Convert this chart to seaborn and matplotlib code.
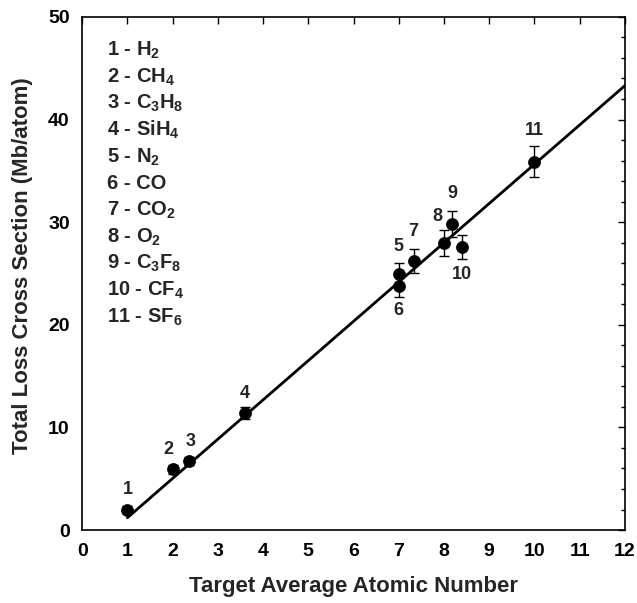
import matplotlib
matplotlib.use("Agg")
import matplotlib.pyplot as plt
import seaborn as sns
import pandas as pd
from matplotlib.ticker import MultipleLocator

# ---- data ----
ids = ["1", "2", "3", "4", "5", "6", "7", "8", "9", "10", "11"]
gases = ["H$_2$", "CH$_4$", "C$_3$H$_8$", "SiH$_4$", "N$_2$", "CO", "CO$_2$",
         "O$_2$", "C$_3$F$_8$", "CF$_4$", "SF$_6$"]
z_avg = [1.0, 2.0, 2.36, 3.6, 7.0, 7.0, 7.33, 8.0, 8.18, 8.4, 10.0]
sigma = [2.0, 5.9, 6.7, 11.4, 24.9, 23.8, 26.2, 28.0, 29.8, 27.6, 35.9]
sigma_err = [0.3, 0.4, 0.4, 0.6, 1.1, 1.1, 1.2, 1.25, 1.25, 1.15, 1.5]
fit_x = [1.0, 12.0]
fit_y = [1.2, 43.3]

df = pd.DataFrame({"z": z_avg, "s": sigma, "e": sigma_err, "id": ids})
fit = pd.DataFrame({"x": fit_x, "y": fit_y})

sns.set_style("white")
plt.rcParams["font.family"] = ["Liberation Sans", "DejaVu Sans"]
plt.rcParams["font.weight"] = "bold"
plt.rcParams["mathtext.fontset"] = "custom"
plt.rcParams["mathtext.rm"] = "Liberation Sans:bold"
plt.rcParams["mathtext.it"] = "Liberation Sans:bold"
plt.rcParams["mathtext.bf"] = "Liberation Sans:bold"

fig = plt.figure(figsize=(6.37, 6.03), dpi=100)
ax = fig.add_axes([0.129, 0.121, 0.852, 0.851])

sns.lineplot(data=fit, x="x", y="y", ax=ax, color="black", linewidth=2.0)
ax.errorbar(df["z"], df["s"], yerr=df["e"], fmt="none", ecolor="black",
            elinewidth=1.0, capsize=3.5, capthick=1.0)
sns.scatterplot(data=df, x="z", y="s", ax=ax, color="black", s=75,
                edgecolor="black", linewidth=0.5, zorder=5)

# point labels (offset in points)
offsets = {"1": (0, 8), "2": (-3, 8), "3": (1, 8), "4": (0, 8), "5": (0, 14),
           "6": (0, -24), "7": (0, 15), "8": (-5, 13), "9": (0, 16),
           "10": (0, -26), "11": (0, 16)}
for zi, si, lab in zip(z_avg, sigma, ids):
    dx, dy = offsets[lab]
    ax.annotate(lab, (zi, si), xytext=(dx, dy), textcoords="offset points",
                ha="center", va="bottom", fontsize=13, fontweight="bold")

# legend list
for i, (lab, g) in enumerate(zip(ids, gases)):
    ax.text(0.045, 0.935 - i * 0.052, f"{lab} - {g}", transform=ax.transAxes,
            fontsize=14.5, fontweight="bold", ha="left", va="center")

ax.set_xlim(0, 12)
ax.set_ylim(0, 50)
ax.xaxis.set_major_locator(MultipleLocator(1))
ax.yaxis.set_major_locator(MultipleLocator(10))
ax.yaxis.set_minor_locator(MultipleLocator(2))
ax.tick_params(which="both", direction="in", top=True, right=True,
               labelsize=14, width=1.0, colors="black")
ax.tick_params(which="major", length=5, pad=9)
ax.tick_params(which="minor", length=3)
for lbl in ax.get_xticklabels() + ax.get_yticklabels():
    lbl.set_fontweight("bold")
for sp in ax.spines.values():
    sp.set_color("black")
    sp.set_linewidth(1.2)

ax.set_xlabel("Target Average Atomic Number", fontsize=16, fontweight="bold", labelpad=12)
ax.set_ylabel("Total Loss Cross Section (Mb/atom)", fontsize=16, fontweight="bold")
ax.yaxis.set_label_coords(-0.09, 0.515)

fig.savefig("out.png", dpi=100)
